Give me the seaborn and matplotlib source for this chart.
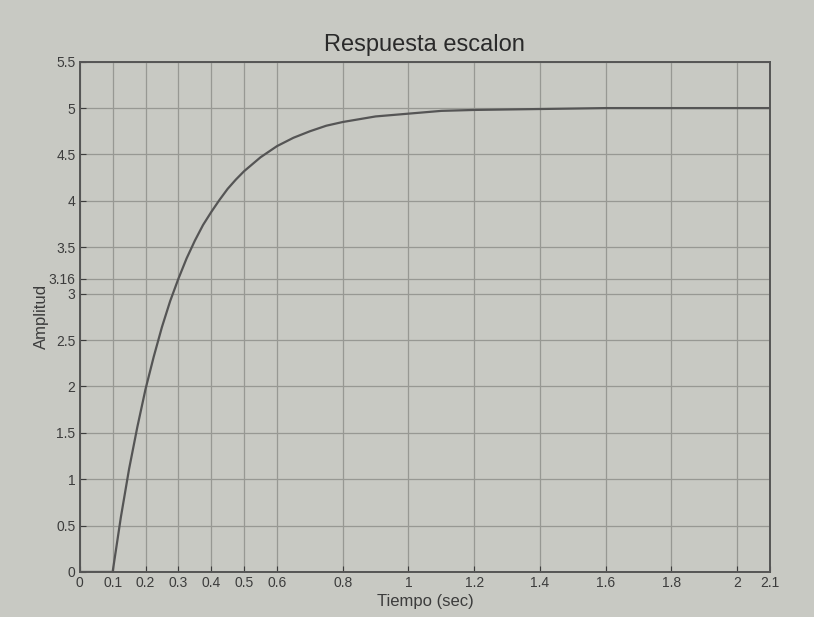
"""
Respuesta escalon - step response plot (MATLAB style printout)
"""

import numpy as np
import pandas as pd
import matplotlib
matplotlib.use("Agg")
import matplotlib.pyplot as plt
import seaborn as sns

# Step response (delay 0.1 s, final value 5)
tiempo = [0.0, 0.1, 0.125, 0.15, 0.175, 0.2, 0.225, 0.25, 0.275, 0.3, 0.325,
          0.35, 0.375, 0.4, 0.425, 0.45, 0.475, 0.5, 0.55, 0.6, 0.65, 0.7,
          0.75, 0.8, 0.9, 1.0, 1.1, 1.2, 1.4, 1.6, 1.8, 2.0, 2.1]
amplitud = [0.0, 0.0, 0.59, 1.11, 1.56, 1.97, 2.32, 2.64, 2.92, 3.16, 3.38,
            3.57, 3.74, 3.88, 4.01, 4.13, 4.23, 4.32, 4.47, 4.59, 4.68, 4.75,
            4.81, 4.85, 4.91, 4.94, 4.97, 4.98, 4.99, 5.0, 5.0, 5.0, 5.0]

x_ticks = [0, 0.1, 0.2, 0.3, 0.4, 0.5, 0.6, 0.8, 1, 1.2, 1.4, 1.6, 1.8, 2, 2.1]
x_labels = ["0", "0.1", "0.2", "0.3", "0.4", "0.5", "0.6", "0.8", "1", "1.2",
            "1.4", "1.6", "1.8", "2", "2.1"]
y_ticks = [0, 0.5, 1, 1.5, 2, 2.5, 3, 3.16, 3.5, 4, 4.5, 5, 5.5]
y_labels = ["0", "0.5", "1", "1.5", "2", "2.5", "3", "3.16", "3.5", "4",
            "4.5", "5", "5.5"]

paper = "#c8c9c3"
ink = "#3c3c3c"

sns.set_style("ticks")
plt.rcParams["font.family"] = ["Liberation Sans", "DejaVu Sans"]

df = pd.DataFrame({"t": tiempo, "y": amplitud})

fig = plt.figure(figsize=(8.14, 6.17), dpi=100, facecolor=paper)
ax = fig.add_axes([0.098, 0.073, 0.848, 0.827], facecolor=paper)

sns.lineplot(data=df, x="t", y="y", color="#555555", linewidth=1.6, ax=ax)

ax.set_xlim(0, 2.1)
ax.set_ylim(0, 5.5)
ax.set_xticks(x_ticks)
ax.set_xticklabels(x_labels)
ax.set_yticks(y_ticks)
ax.set_yticklabels(y_labels)

ax.grid(True, color="#979893", linewidth=0.9)
ax.tick_params(direction="in", length=4, labelsize=10, colors=ink, pad=3)
for s in ax.spines.values():
    s.set_visible(True)
    s.set_color("#555555")
    s.set_linewidth(1.4)

ax.set_title("Respuesta escalon", fontsize=17, color="#2a2a2a", pad=8)
ax.set_xlabel("Tiempo (sec)", fontsize=12, color=ink, labelpad=3)
ax.set_ylabel("Amplitud", fontsize=12, color=ink, labelpad=0)

fig.savefig("out.png", dpi=100, facecolor=paper)
